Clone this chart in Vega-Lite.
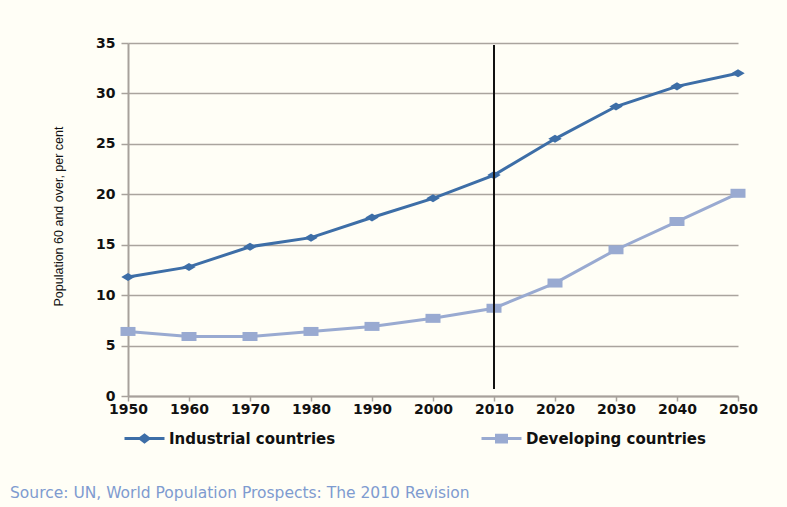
{
  "$schema": "https://vega.github.io/schema/vega-lite/v6.json",
  "width": 610,
  "height": 353,
  "autosize": {"type": "none"},
  "padding": {"left": 128, "top": 43, "right": 49, "bottom": 111},
  "background": "#fffef6",
  "title": {
    "text": "Source: UN, World Population Prospects: The 2010 Revision",
    "orient": "bottom",
    "anchor": "start",
    "frame": "group",
    "font": "DejaVu Sans",
    "fontSize": 15.5,
    "fontWeight": "normal",
    "color": "#7e9bd0",
    "dx": -118,
    "offset": 38
  },
  "config": {
    "view": {"stroke": null},
    "axis": {
      "labelFont": "DejaVu Sans",
      "labelFontWeight": "bold",
      "labelFontSize": 14,
      "labelColor": "#111111",
      "domainColor": "#a7a19b",
      "domainWidth": 2,
      "tickColor": "#a7a19b",
      "tickWidth": 1.5,
      "gridColor": "#aaa49e",
      "gridWidth": 1.5
    }
  },
  "resolve": {"legend": {"color": "independent", "shape": "independent", "size": "independent"}},
  "datasets": {
    "series": [
      {"year": 1950, "group": "Industrial countries", "value": 11.8},
      {"year": 1960, "group": "Industrial countries", "value": 12.8},
      {"year": 1970, "group": "Industrial countries", "value": 14.8},
      {"year": 1980, "group": "Industrial countries", "value": 15.7},
      {"year": 1990, "group": "Industrial countries", "value": 17.7},
      {"year": 2000, "group": "Industrial countries", "value": 19.6},
      {"year": 2010, "group": "Industrial countries", "value": 21.9},
      {"year": 2020, "group": "Industrial countries", "value": 25.5},
      {"year": 2030, "group": "Industrial countries", "value": 28.7},
      {"year": 2040, "group": "Industrial countries", "value": 30.7},
      {"year": 2050, "group": "Industrial countries", "value": 32.0},
      {"year": 1950, "group": "Developing countries", "value": 6.4},
      {"year": 1960, "group": "Developing countries", "value": 5.9},
      {"year": 1970, "group": "Developing countries", "value": 5.9},
      {"year": 1980, "group": "Developing countries", "value": 6.4},
      {"year": 1990, "group": "Developing countries", "value": 6.9},
      {"year": 2000, "group": "Developing countries", "value": 7.7},
      {"year": 2010, "group": "Developing countries", "value": 8.7},
      {"year": 2020, "group": "Developing countries", "value": 11.2},
      {"year": 2030, "group": "Developing countries", "value": 14.5},
      {"year": 2040, "group": "Developing countries", "value": 17.3},
      {"year": 2050, "group": "Developing countries", "value": 20.1}
    ],
    "marker": [
      {"year": 2010, "low": 0.7, "high": 34.8}
    ]
  },
  "layer": [
    {
      "data": {"name": "series"},
      "mark": {"type": "line", "strokeWidth": 3},
      "encoding": {
        "x": {
          "field": "year",
          "type": "quantitative",
          "scale": {"domain": [1950, 2050], "nice": false, "zero": false},
          "axis": {
            "title": null,
            "values": [1950, 1960, 1970, 1980, 1990, 2000, 2010, 2020, 2030, 2040, 2050],
            "format": "d",
            "grid": false,
            "tickSize": 5,
            "labelPadding": 1,
            "labelFlush": false
          }
        },
        "y": {
          "field": "value",
          "type": "quantitative",
          "scale": {"domain": [0, 35], "nice": false},
          "axis": {
            "title": "Population 60 and over, per cent",
            "titleFont": "Liberation Sans",
            "titleFontSize": 12.5,
            "titleFontWeight": "normal",
            "titleColor": "#111111",
            "titleAngle": -90,
            "titleX": -70,
            "titleY": 173,
            "titleAlign": "center",
            "titleBaseline": "middle",
            "values": [0, 5, 10, 15, 20, 25, 30, 35],
            "tickSize": 7,
            "labelPadding": 6,
            "grid": true
          }
        },
        "color": {
          "field": "group",
          "type": "nominal",
          "scale": {
            "domain": ["Industrial countries", "Developing countries"],
            "range": ["#3d6ea7", "#99aad1"]
          },
          "legend": {
            "title": null,
            "orient": "none",
            "legendX": -5,
            "legendY": 374,
            "direction": "horizontal",
            "columnPadding": 139,
            "labelFont": "DejaVu Sans",
            "labelFontWeight": "bold",
            "labelFontSize": 15,
            "labelColor": "#111111",
            "labelOffset": 3,
            "labelLimit": 0,
            "symbolSize": 1600,
            "symbolStrokeWidth": 3,
            "encode": {
              "symbols": {
                "update": {
                  "shape": {"signal": "datum.value == 'Industrial countries' ? 'M-1,0H1M-0.22,0L0,-0.17L0.22,0L0,0.17Z' : 'M-1,0H1M-0.25,-0.17H0.25V0.17H-0.25Z'"},
                  "fill": {"scale": "color", "field": "value"},
                  "stroke": {"scale": "color", "field": "value"},
                  "fillOpacity": {"value": 1},
                  "strokeWidth": {"value": 3}
                }
              }
            }
          }
        }
      }
    },
    {
      "data": {"name": "series"},
      "mark": {"type": "point", "filled": true, "opacity": 1},
      "encoding": {
        "x": {"field": "year", "type": "quantitative"},
        "y": {"field": "value", "type": "quantitative"},
        "color": {"field": "group", "type": "nominal", "legend": null},
        "shape": {
          "field": "group",
          "type": "nominal",
          "scale": {
            "domain": ["Industrial countries", "Developing countries"],
            "range": ["M-1,0L0,-0.6L1,0L0,0.6Z", "M-1,-0.6H1V0.6H-1Z"]
          },
          "legend": null
        },
        "size": {
          "field": "group",
          "type": "nominal",
          "scale": {
            "domain": ["Industrial countries", "Developing countries"],
            "range": [180, 225]
          },
          "legend": null
        }
      }
    },
    {
      "data": {"name": "marker"},
      "mark": {"type": "rule", "color": "#111111", "strokeWidth": 2},
      "encoding": {
        "x": {"field": "year", "type": "quantitative"},
        "y": {"field": "low", "type": "quantitative"},
        "y2": {"field": "high"}
      }
    }
  ]
}
